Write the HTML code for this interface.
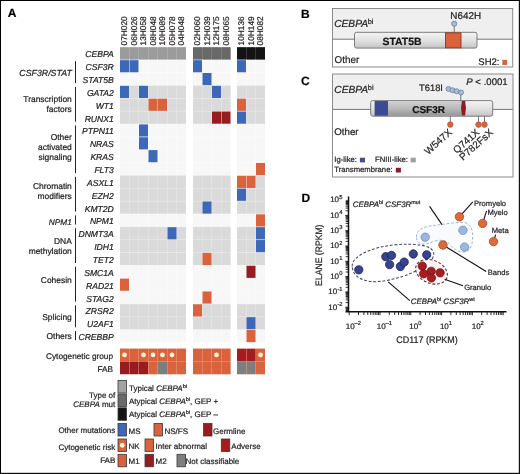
<!DOCTYPE html>
<html><head><meta charset="utf-8"><title>Figure</title>
<style>html,body{margin:0;padding:0;background:#fff;}body{width:520px;height:474px;overflow:hidden;font-family:"Liberation Sans",sans-serif;}svg{display:block;will-change:transform;}</style>
</head><body>
<svg width="520" height="474" viewBox="0 0 520 474" text-rendering="geometricPrecision"><style>text{stroke:#231f20;stroke-width:0.22px;}</style><defs>
<linearGradient id="bar" x1="0" y1="0" x2="0" y2="1"><stop offset="0" stop-color="#f4f4f4"/><stop offset="0.5" stop-color="#e2e2e2"/><stop offset="1" stop-color="#c4c4c4"/></linearGradient>
<linearGradient id="bar2" x1="0" y1="0" x2="0" y2="1"><stop offset="0" stop-color="#d0d0d0"/><stop offset="0.5" stop-color="#bababa"/><stop offset="1" stop-color="#969696"/></linearGradient>
</defs>
<text x="7.8" y="17.2" font-family="Liberation Sans, sans-serif" font-size="12" font-weight="bold" fill="#000">A</text>
<text transform="translate(127.40,45.4) rotate(-90)" font-family="Liberation Sans, sans-serif" font-size="8.3" fill="#231f20">07H020</text>
<text transform="translate(136.90,45.4) rotate(-90)" font-family="Liberation Sans, sans-serif" font-size="8.3" fill="#231f20">06H026</text>
<text transform="translate(146.40,45.4) rotate(-90)" font-family="Liberation Sans, sans-serif" font-size="8.3" fill="#231f20">13H058</text>
<text transform="translate(155.90,45.4) rotate(-90)" font-family="Liberation Sans, sans-serif" font-size="8.3" fill="#231f20">08H048</text>
<text transform="translate(165.40,45.4) rotate(-90)" font-family="Liberation Sans, sans-serif" font-size="8.3" fill="#231f20">10H089</text>
<text transform="translate(174.90,45.4) rotate(-90)" font-family="Liberation Sans, sans-serif" font-size="8.3" fill="#231f20">05H078</text>
<text transform="translate(184.40,45.4) rotate(-90)" font-family="Liberation Sans, sans-serif" font-size="8.3" fill="#231f20">04H048</text>
<text transform="translate(200.40,45.4) rotate(-90)" font-family="Liberation Sans, sans-serif" font-size="8.3" fill="#231f20">02H060</text>
<text transform="translate(209.90,45.4) rotate(-90)" font-family="Liberation Sans, sans-serif" font-size="8.3" fill="#231f20">12H039</text>
<text transform="translate(219.40,45.4) rotate(-90)" font-family="Liberation Sans, sans-serif" font-size="8.3" fill="#231f20">12H175</text>
<text transform="translate(228.90,45.4) rotate(-90)" font-family="Liberation Sans, sans-serif" font-size="8.3" fill="#231f20">08H065</text>
<text transform="translate(244.40,45.4) rotate(-90)" font-family="Liberation Sans, sans-serif" font-size="8.3" fill="#231f20">10H136</text>
<text transform="translate(253.90,45.4) rotate(-90)" font-family="Liberation Sans, sans-serif" font-size="8.3" fill="#231f20">10H149</text>
<text transform="translate(263.40,45.4) rotate(-90)" font-family="Liberation Sans, sans-serif" font-size="8.3" fill="#231f20">08H082</text>
<rect x="120.00" y="47.30" width="66.00" height="12.85" fill="#b9b9b9"/>
<rect x="193.00" y="47.30" width="37.50" height="12.85" fill="#959595"/>
<rect x="237.00" y="47.30" width="28.00" height="12.85" fill="#5a5a5a"/>
<rect x="120.00" y="59.45" width="66.00" height="13.55" fill="#fbfbfb"/>
<rect x="193.00" y="59.45" width="37.50" height="13.55" fill="#fbfbfb"/>
<rect x="237.00" y="59.45" width="28.00" height="13.55" fill="#fbfbfb"/>
<rect x="120.00" y="72.30" width="66.00" height="13.55" fill="#fbfbfb"/>
<rect x="193.00" y="72.30" width="37.50" height="13.55" fill="#fbfbfb"/>
<rect x="237.00" y="72.30" width="28.00" height="13.55" fill="#fbfbfb"/>
<rect x="120.00" y="85.15" width="66.00" height="13.55" fill="#ebebeb"/>
<rect x="193.00" y="85.15" width="37.50" height="13.55" fill="#ebebeb"/>
<rect x="237.00" y="85.15" width="28.00" height="13.55" fill="#ebebeb"/>
<rect x="120.00" y="98.00" width="66.00" height="13.55" fill="#ebebeb"/>
<rect x="193.00" y="98.00" width="37.50" height="13.55" fill="#ebebeb"/>
<rect x="237.00" y="98.00" width="28.00" height="13.55" fill="#ebebeb"/>
<rect x="120.00" y="110.85" width="66.00" height="13.55" fill="#ebebeb"/>
<rect x="193.00" y="110.85" width="37.50" height="13.55" fill="#ebebeb"/>
<rect x="237.00" y="110.85" width="28.00" height="13.55" fill="#ebebeb"/>
<rect x="120.00" y="123.70" width="66.00" height="13.55" fill="#fbfbfb"/>
<rect x="193.00" y="123.70" width="37.50" height="13.55" fill="#fbfbfb"/>
<rect x="237.00" y="123.70" width="28.00" height="13.55" fill="#fbfbfb"/>
<rect x="120.00" y="136.55" width="66.00" height="13.55" fill="#fbfbfb"/>
<rect x="193.00" y="136.55" width="37.50" height="13.55" fill="#fbfbfb"/>
<rect x="237.00" y="136.55" width="28.00" height="13.55" fill="#fbfbfb"/>
<rect x="120.00" y="149.40" width="66.00" height="13.55" fill="#fbfbfb"/>
<rect x="193.00" y="149.40" width="37.50" height="13.55" fill="#fbfbfb"/>
<rect x="237.00" y="149.40" width="28.00" height="13.55" fill="#fbfbfb"/>
<rect x="120.00" y="162.25" width="66.00" height="13.55" fill="#fbfbfb"/>
<rect x="193.00" y="162.25" width="37.50" height="13.55" fill="#fbfbfb"/>
<rect x="237.00" y="162.25" width="28.00" height="13.55" fill="#fbfbfb"/>
<rect x="120.00" y="175.10" width="66.00" height="13.55" fill="#ebebeb"/>
<rect x="193.00" y="175.10" width="37.50" height="13.55" fill="#ebebeb"/>
<rect x="237.00" y="175.10" width="28.00" height="13.55" fill="#ebebeb"/>
<rect x="120.00" y="187.95" width="66.00" height="13.55" fill="#ebebeb"/>
<rect x="193.00" y="187.95" width="37.50" height="13.55" fill="#ebebeb"/>
<rect x="237.00" y="187.95" width="28.00" height="13.55" fill="#ebebeb"/>
<rect x="120.00" y="200.80" width="66.00" height="13.55" fill="#ebebeb"/>
<rect x="193.00" y="200.80" width="37.50" height="13.55" fill="#ebebeb"/>
<rect x="237.00" y="200.80" width="28.00" height="13.55" fill="#ebebeb"/>
<rect x="120.00" y="213.65" width="66.00" height="13.55" fill="#fbfbfb"/>
<rect x="193.00" y="213.65" width="37.50" height="13.55" fill="#fbfbfb"/>
<rect x="237.00" y="213.65" width="28.00" height="13.55" fill="#fbfbfb"/>
<rect x="120.00" y="226.50" width="66.00" height="13.55" fill="#ebebeb"/>
<rect x="193.00" y="226.50" width="37.50" height="13.55" fill="#ebebeb"/>
<rect x="237.00" y="226.50" width="28.00" height="13.55" fill="#ebebeb"/>
<rect x="120.00" y="239.35" width="66.00" height="13.55" fill="#ebebeb"/>
<rect x="193.00" y="239.35" width="37.50" height="13.55" fill="#ebebeb"/>
<rect x="237.00" y="239.35" width="28.00" height="13.55" fill="#ebebeb"/>
<rect x="120.00" y="252.20" width="66.00" height="13.55" fill="#ebebeb"/>
<rect x="193.00" y="252.20" width="37.50" height="13.55" fill="#ebebeb"/>
<rect x="237.00" y="252.20" width="28.00" height="13.55" fill="#ebebeb"/>
<rect x="120.00" y="265.05" width="66.00" height="13.55" fill="#fbfbfb"/>
<rect x="193.00" y="265.05" width="37.50" height="13.55" fill="#fbfbfb"/>
<rect x="237.00" y="265.05" width="28.00" height="13.55" fill="#fbfbfb"/>
<rect x="120.00" y="277.90" width="66.00" height="13.55" fill="#fbfbfb"/>
<rect x="193.00" y="277.90" width="37.50" height="13.55" fill="#fbfbfb"/>
<rect x="237.00" y="277.90" width="28.00" height="13.55" fill="#fbfbfb"/>
<rect x="120.00" y="290.75" width="66.00" height="13.55" fill="#fbfbfb"/>
<rect x="193.00" y="290.75" width="37.50" height="13.55" fill="#fbfbfb"/>
<rect x="237.00" y="290.75" width="28.00" height="13.55" fill="#fbfbfb"/>
<rect x="120.00" y="303.60" width="66.00" height="13.55" fill="#ebebeb"/>
<rect x="193.00" y="303.60" width="37.50" height="13.55" fill="#ebebeb"/>
<rect x="237.00" y="303.60" width="28.00" height="13.55" fill="#ebebeb"/>
<rect x="120.00" y="316.45" width="66.00" height="13.55" fill="#ebebeb"/>
<rect x="193.00" y="316.45" width="37.50" height="13.55" fill="#ebebeb"/>
<rect x="237.00" y="316.45" width="28.00" height="13.55" fill="#ebebeb"/>
<rect x="120.00" y="329.30" width="66.00" height="12.85" fill="#fbfbfb"/>
<rect x="193.00" y="329.30" width="37.50" height="12.85" fill="#fbfbfb"/>
<rect x="237.00" y="329.30" width="28.00" height="12.85" fill="#fbfbfb"/>
<rect x="120.00" y="47.30" width="9.0" height="12.15" fill="#9b9b9b"/>
<rect x="129.50" y="47.30" width="9.0" height="12.15" fill="#9b9b9b"/>
<rect x="139.00" y="47.30" width="9.0" height="12.15" fill="#9b9b9b"/>
<rect x="148.50" y="47.30" width="9.0" height="12.15" fill="#9b9b9b"/>
<rect x="158.00" y="47.30" width="9.0" height="12.15" fill="#9b9b9b"/>
<rect x="167.50" y="47.30" width="9.0" height="12.15" fill="#9b9b9b"/>
<rect x="177.00" y="47.30" width="9.0" height="12.15" fill="#9b9b9b"/>
<rect x="193.00" y="47.30" width="9.0" height="12.15" fill="#686868"/>
<rect x="202.50" y="47.30" width="9.0" height="12.15" fill="#686868"/>
<rect x="212.00" y="47.30" width="9.0" height="12.15" fill="#686868"/>
<rect x="221.50" y="47.30" width="9.0" height="12.15" fill="#686868"/>
<rect x="237.00" y="47.30" width="9.0" height="12.15" fill="#141414"/>
<rect x="246.50" y="47.30" width="9.0" height="12.15" fill="#141414"/>
<rect x="256.00" y="47.30" width="9.0" height="12.15" fill="#141414"/>
<text x="113.8" y="57.38" font-family="Liberation Sans, sans-serif" font-size="8.6" font-style="italic" text-anchor="end" fill="#231f20">CEBPA</text>
<rect x="120.00" y="60.15" width="9.0" height="12.15" fill="#3d68b8"/>
<rect x="129.50" y="60.15" width="9.0" height="12.15" fill="#3d68b8"/>
<rect x="139.00" y="60.15" width="9.0" height="12.15" fill="#f7f7f7"/>
<rect x="148.50" y="60.15" width="9.0" height="12.15" fill="#f7f7f7"/>
<rect x="158.00" y="60.15" width="9.0" height="12.15" fill="#f7f7f7"/>
<rect x="167.50" y="60.15" width="9.0" height="12.15" fill="#f7f7f7"/>
<rect x="177.00" y="60.15" width="9.0" height="12.15" fill="#f7f7f7"/>
<rect x="193.00" y="60.15" width="9.0" height="12.15" fill="#3d68b8"/>
<rect x="202.50" y="60.15" width="9.0" height="12.15" fill="#f7f7f7"/>
<rect x="212.00" y="60.15" width="9.0" height="12.15" fill="#f7f7f7"/>
<rect x="221.50" y="60.15" width="9.0" height="12.15" fill="#f7f7f7"/>
<rect x="237.00" y="60.15" width="9.0" height="12.15" fill="#3d68b8"/>
<rect x="246.50" y="60.15" width="9.0" height="12.15" fill="#f7f7f7"/>
<rect x="256.00" y="60.15" width="9.0" height="12.15" fill="#f7f7f7"/>
<text x="113.8" y="70.22" font-family="Liberation Sans, sans-serif" font-size="8.6" font-style="italic" text-anchor="end" fill="#231f20">CSF3R</text>
<rect x="120.00" y="73.00" width="9.0" height="12.15" fill="#f7f7f7"/>
<rect x="129.50" y="73.00" width="9.0" height="12.15" fill="#f7f7f7"/>
<rect x="139.00" y="73.00" width="9.0" height="12.15" fill="#f7f7f7"/>
<rect x="148.50" y="73.00" width="9.0" height="12.15" fill="#f7f7f7"/>
<rect x="158.00" y="73.00" width="9.0" height="12.15" fill="#f7f7f7"/>
<rect x="167.50" y="73.00" width="9.0" height="12.15" fill="#f7f7f7"/>
<rect x="177.00" y="73.00" width="9.0" height="12.15" fill="#f7f7f7"/>
<rect x="193.00" y="73.00" width="9.0" height="12.15" fill="#f7f7f7"/>
<rect x="202.50" y="73.00" width="9.0" height="12.15" fill="#3d68b8"/>
<rect x="212.00" y="73.00" width="9.0" height="12.15" fill="#f7f7f7"/>
<rect x="221.50" y="73.00" width="9.0" height="12.15" fill="#f7f7f7"/>
<rect x="237.00" y="73.00" width="9.0" height="12.15" fill="#f7f7f7"/>
<rect x="246.50" y="73.00" width="9.0" height="12.15" fill="#f7f7f7"/>
<rect x="256.00" y="73.00" width="9.0" height="12.15" fill="#f7f7f7"/>
<text x="113.8" y="83.08" font-family="Liberation Sans, sans-serif" font-size="8.6" font-style="italic" text-anchor="end" fill="#231f20">STAT5B</text>
<rect x="120.00" y="85.85" width="9.0" height="12.15" fill="#3d68b8"/>
<rect x="129.50" y="85.85" width="9.0" height="12.15" fill="#dadada"/>
<rect x="139.00" y="85.85" width="9.0" height="12.15" fill="#3d68b8"/>
<rect x="148.50" y="85.85" width="9.0" height="12.15" fill="#dadada"/>
<rect x="158.00" y="85.85" width="9.0" height="12.15" fill="#dadada"/>
<rect x="167.50" y="85.85" width="9.0" height="12.15" fill="#dadada"/>
<rect x="177.00" y="85.85" width="9.0" height="12.15" fill="#dadada"/>
<rect x="193.00" y="85.85" width="9.0" height="12.15" fill="#dadada"/>
<rect x="202.50" y="85.85" width="9.0" height="12.15" fill="#dadada"/>
<rect x="212.00" y="85.85" width="9.0" height="12.15" fill="#3d68b8"/>
<rect x="221.50" y="85.85" width="9.0" height="12.15" fill="#dadada"/>
<rect x="237.00" y="85.85" width="9.0" height="12.15" fill="#dadada"/>
<rect x="246.50" y="85.85" width="9.0" height="12.15" fill="#dadada"/>
<rect x="256.00" y="85.85" width="9.0" height="12.15" fill="#dadada"/>
<text x="113.8" y="95.92" font-family="Liberation Sans, sans-serif" font-size="8.6" font-style="italic" text-anchor="end" fill="#231f20">GATA2</text>
<rect x="120.00" y="98.70" width="9.0" height="12.15" fill="#dadada"/>
<rect x="129.50" y="98.70" width="9.0" height="12.15" fill="#dadada"/>
<rect x="139.00" y="98.70" width="9.0" height="12.15" fill="#dadada"/>
<rect x="148.50" y="98.70" width="9.0" height="12.15" fill="#da623c"/>
<rect x="158.00" y="98.70" width="9.0" height="12.15" fill="#da623c"/>
<rect x="167.50" y="98.70" width="9.0" height="12.15" fill="#dadada"/>
<rect x="177.00" y="98.70" width="9.0" height="12.15" fill="#dadada"/>
<rect x="193.00" y="98.70" width="9.0" height="12.15" fill="#dadada"/>
<rect x="202.50" y="98.70" width="9.0" height="12.15" fill="#dadada"/>
<rect x="212.00" y="98.70" width="9.0" height="12.15" fill="#dadada"/>
<rect x="221.50" y="98.70" width="9.0" height="12.15" fill="#dadada"/>
<rect x="237.00" y="98.70" width="9.0" height="12.15" fill="#da623c"/>
<rect x="246.50" y="98.70" width="9.0" height="12.15" fill="#dadada"/>
<rect x="256.00" y="98.70" width="9.0" height="12.15" fill="#dadada"/>
<text x="113.8" y="108.77" font-family="Liberation Sans, sans-serif" font-size="8.6" font-style="italic" text-anchor="end" fill="#231f20">WT1</text>
<rect x="120.00" y="111.55" width="9.0" height="12.15" fill="#dadada"/>
<rect x="129.50" y="111.55" width="9.0" height="12.15" fill="#dadada"/>
<rect x="139.00" y="111.55" width="9.0" height="12.15" fill="#dadada"/>
<rect x="148.50" y="111.55" width="9.0" height="12.15" fill="#dadada"/>
<rect x="158.00" y="111.55" width="9.0" height="12.15" fill="#dadada"/>
<rect x="167.50" y="111.55" width="9.0" height="12.15" fill="#dadada"/>
<rect x="177.00" y="111.55" width="9.0" height="12.15" fill="#dadada"/>
<rect x="193.00" y="111.55" width="9.0" height="12.15" fill="#dadada"/>
<rect x="202.50" y="111.55" width="9.0" height="12.15" fill="#dadada"/>
<rect x="212.00" y="111.55" width="9.0" height="12.15" fill="#961c20"/>
<rect x="221.50" y="111.55" width="9.0" height="12.15" fill="#961c20"/>
<rect x="237.00" y="111.55" width="9.0" height="12.15" fill="#3d68b8"/>
<rect x="246.50" y="111.55" width="9.0" height="12.15" fill="#dadada"/>
<rect x="256.00" y="111.55" width="9.0" height="12.15" fill="#dadada"/>
<text x="113.8" y="121.62" font-family="Liberation Sans, sans-serif" font-size="8.6" font-style="italic" text-anchor="end" fill="#231f20">RUNX1</text>
<rect x="120.00" y="124.40" width="9.0" height="12.15" fill="#f7f7f7"/>
<rect x="129.50" y="124.40" width="9.0" height="12.15" fill="#f7f7f7"/>
<rect x="139.00" y="124.40" width="9.0" height="12.15" fill="#3d68b8"/>
<rect x="148.50" y="124.40" width="9.0" height="12.15" fill="#f7f7f7"/>
<rect x="158.00" y="124.40" width="9.0" height="12.15" fill="#f7f7f7"/>
<rect x="167.50" y="124.40" width="9.0" height="12.15" fill="#f7f7f7"/>
<rect x="177.00" y="124.40" width="9.0" height="12.15" fill="#f7f7f7"/>
<rect x="193.00" y="124.40" width="9.0" height="12.15" fill="#f7f7f7"/>
<rect x="202.50" y="124.40" width="9.0" height="12.15" fill="#f7f7f7"/>
<rect x="212.00" y="124.40" width="9.0" height="12.15" fill="#f7f7f7"/>
<rect x="221.50" y="124.40" width="9.0" height="12.15" fill="#f7f7f7"/>
<rect x="237.00" y="124.40" width="9.0" height="12.15" fill="#f7f7f7"/>
<rect x="246.50" y="124.40" width="9.0" height="12.15" fill="#f7f7f7"/>
<rect x="256.00" y="124.40" width="9.0" height="12.15" fill="#f7f7f7"/>
<text x="113.8" y="134.47" font-family="Liberation Sans, sans-serif" font-size="8.6" font-style="italic" text-anchor="end" fill="#231f20">PTPN11</text>
<rect x="120.00" y="137.25" width="9.0" height="12.15" fill="#f7f7f7"/>
<rect x="129.50" y="137.25" width="9.0" height="12.15" fill="#f7f7f7"/>
<rect x="139.00" y="137.25" width="9.0" height="12.15" fill="#3d68b8"/>
<rect x="148.50" y="137.25" width="9.0" height="12.15" fill="#f7f7f7"/>
<rect x="158.00" y="137.25" width="9.0" height="12.15" fill="#f7f7f7"/>
<rect x="167.50" y="137.25" width="9.0" height="12.15" fill="#f7f7f7"/>
<rect x="177.00" y="137.25" width="9.0" height="12.15" fill="#f7f7f7"/>
<rect x="193.00" y="137.25" width="9.0" height="12.15" fill="#f7f7f7"/>
<rect x="202.50" y="137.25" width="9.0" height="12.15" fill="#f7f7f7"/>
<rect x="212.00" y="137.25" width="9.0" height="12.15" fill="#f7f7f7"/>
<rect x="221.50" y="137.25" width="9.0" height="12.15" fill="#f7f7f7"/>
<rect x="237.00" y="137.25" width="9.0" height="12.15" fill="#f7f7f7"/>
<rect x="246.50" y="137.25" width="9.0" height="12.15" fill="#f7f7f7"/>
<rect x="256.00" y="137.25" width="9.0" height="12.15" fill="#f7f7f7"/>
<text x="113.8" y="147.32" font-family="Liberation Sans, sans-serif" font-size="8.6" font-style="italic" text-anchor="end" fill="#231f20">NRAS</text>
<rect x="120.00" y="150.10" width="9.0" height="12.15" fill="#f7f7f7"/>
<rect x="129.50" y="150.10" width="9.0" height="12.15" fill="#f7f7f7"/>
<rect x="139.00" y="150.10" width="9.0" height="12.15" fill="#f7f7f7"/>
<rect x="148.50" y="150.10" width="9.0" height="12.15" fill="#3d68b8"/>
<rect x="158.00" y="150.10" width="9.0" height="12.15" fill="#f7f7f7"/>
<rect x="167.50" y="150.10" width="9.0" height="12.15" fill="#f7f7f7"/>
<rect x="177.00" y="150.10" width="9.0" height="12.15" fill="#f7f7f7"/>
<rect x="193.00" y="150.10" width="9.0" height="12.15" fill="#f7f7f7"/>
<rect x="202.50" y="150.10" width="9.0" height="12.15" fill="#f7f7f7"/>
<rect x="212.00" y="150.10" width="9.0" height="12.15" fill="#f7f7f7"/>
<rect x="221.50" y="150.10" width="9.0" height="12.15" fill="#f7f7f7"/>
<rect x="237.00" y="150.10" width="9.0" height="12.15" fill="#f7f7f7"/>
<rect x="246.50" y="150.10" width="9.0" height="12.15" fill="#f7f7f7"/>
<rect x="256.00" y="150.10" width="9.0" height="12.15" fill="#f7f7f7"/>
<text x="113.8" y="160.17" font-family="Liberation Sans, sans-serif" font-size="8.6" font-style="italic" text-anchor="end" fill="#231f20">KRAS</text>
<rect x="120.00" y="162.95" width="9.0" height="12.15" fill="#f7f7f7"/>
<rect x="129.50" y="162.95" width="9.0" height="12.15" fill="#f7f7f7"/>
<rect x="139.00" y="162.95" width="9.0" height="12.15" fill="#f7f7f7"/>
<rect x="148.50" y="162.95" width="9.0" height="12.15" fill="#f7f7f7"/>
<rect x="158.00" y="162.95" width="9.0" height="12.15" fill="#f7f7f7"/>
<rect x="167.50" y="162.95" width="9.0" height="12.15" fill="#f7f7f7"/>
<rect x="177.00" y="162.95" width="9.0" height="12.15" fill="#f7f7f7"/>
<rect x="193.00" y="162.95" width="9.0" height="12.15" fill="#f7f7f7"/>
<rect x="202.50" y="162.95" width="9.0" height="12.15" fill="#f7f7f7"/>
<rect x="212.00" y="162.95" width="9.0" height="12.15" fill="#f7f7f7"/>
<rect x="221.50" y="162.95" width="9.0" height="12.15" fill="#f7f7f7"/>
<rect x="237.00" y="162.95" width="9.0" height="12.15" fill="#f7f7f7"/>
<rect x="246.50" y="162.95" width="9.0" height="12.15" fill="#f7f7f7"/>
<rect x="256.00" y="162.95" width="9.0" height="12.15" fill="#da623c"/>
<text x="113.8" y="173.02" font-family="Liberation Sans, sans-serif" font-size="8.6" font-style="italic" text-anchor="end" fill="#231f20">FLT3</text>
<rect x="120.00" y="175.80" width="9.0" height="12.15" fill="#dadada"/>
<rect x="129.50" y="175.80" width="9.0" height="12.15" fill="#dadada"/>
<rect x="139.00" y="175.80" width="9.0" height="12.15" fill="#dadada"/>
<rect x="148.50" y="175.80" width="9.0" height="12.15" fill="#dadada"/>
<rect x="158.00" y="175.80" width="9.0" height="12.15" fill="#dadada"/>
<rect x="167.50" y="175.80" width="9.0" height="12.15" fill="#dadada"/>
<rect x="177.00" y="175.80" width="9.0" height="12.15" fill="#dadada"/>
<rect x="193.00" y="175.80" width="9.0" height="12.15" fill="#dadada"/>
<rect x="202.50" y="175.80" width="9.0" height="12.15" fill="#dadada"/>
<rect x="212.00" y="175.80" width="9.0" height="12.15" fill="#dadada"/>
<rect x="221.50" y="175.80" width="9.0" height="12.15" fill="#dadada"/>
<rect x="237.00" y="175.80" width="9.0" height="12.15" fill="#da623c"/>
<rect x="246.50" y="175.80" width="9.0" height="12.15" fill="#da623c"/>
<rect x="256.00" y="175.80" width="9.0" height="12.15" fill="#dadada"/>
<text x="113.8" y="185.88" font-family="Liberation Sans, sans-serif" font-size="8.6" font-style="italic" text-anchor="end" fill="#231f20">ASXL1</text>
<rect x="120.00" y="188.65" width="9.0" height="12.15" fill="#dadada"/>
<rect x="129.50" y="188.65" width="9.0" height="12.15" fill="#dadada"/>
<rect x="139.00" y="188.65" width="9.0" height="12.15" fill="#dadada"/>
<rect x="148.50" y="188.65" width="9.0" height="12.15" fill="#dadada"/>
<rect x="158.00" y="188.65" width="9.0" height="12.15" fill="#dadada"/>
<rect x="167.50" y="188.65" width="9.0" height="12.15" fill="#dadada"/>
<rect x="177.00" y="188.65" width="9.0" height="12.15" fill="#dadada"/>
<rect x="193.00" y="188.65" width="9.0" height="12.15" fill="#dadada"/>
<rect x="202.50" y="188.65" width="9.0" height="12.15" fill="#dadada"/>
<rect x="212.00" y="188.65" width="9.0" height="12.15" fill="#dadada"/>
<rect x="221.50" y="188.65" width="9.0" height="12.15" fill="#dadada"/>
<rect x="237.00" y="188.65" width="9.0" height="12.15" fill="#3d68b8"/>
<rect x="246.50" y="188.65" width="9.0" height="12.15" fill="#dadada"/>
<rect x="256.00" y="188.65" width="9.0" height="12.15" fill="#dadada"/>
<text x="113.8" y="198.72" font-family="Liberation Sans, sans-serif" font-size="8.6" font-style="italic" text-anchor="end" fill="#231f20">EZH2</text>
<rect x="120.00" y="201.50" width="9.0" height="12.15" fill="#dadada"/>
<rect x="129.50" y="201.50" width="9.0" height="12.15" fill="#dadada"/>
<rect x="139.00" y="201.50" width="9.0" height="12.15" fill="#dadada"/>
<rect x="148.50" y="201.50" width="9.0" height="12.15" fill="#dadada"/>
<rect x="158.00" y="201.50" width="9.0" height="12.15" fill="#dadada"/>
<rect x="167.50" y="201.50" width="9.0" height="12.15" fill="#dadada"/>
<rect x="177.00" y="201.50" width="9.0" height="12.15" fill="#dadada"/>
<rect x="193.00" y="201.50" width="9.0" height="12.15" fill="#dadada"/>
<rect x="202.50" y="201.50" width="9.0" height="12.15" fill="#3d68b8"/>
<rect x="212.00" y="201.50" width="9.0" height="12.15" fill="#dadada"/>
<rect x="221.50" y="201.50" width="9.0" height="12.15" fill="#dadada"/>
<rect x="237.00" y="201.50" width="9.0" height="12.15" fill="#dadada"/>
<rect x="246.50" y="201.50" width="9.0" height="12.15" fill="#dadada"/>
<rect x="256.00" y="201.50" width="9.0" height="12.15" fill="#dadada"/>
<text x="113.8" y="211.57" font-family="Liberation Sans, sans-serif" font-size="8.6" font-style="italic" text-anchor="end" fill="#231f20">KMT2D</text>
<rect x="120.00" y="214.35" width="9.0" height="12.15" fill="#f7f7f7"/>
<rect x="129.50" y="214.35" width="9.0" height="12.15" fill="#f7f7f7"/>
<rect x="139.00" y="214.35" width="9.0" height="12.15" fill="#f7f7f7"/>
<rect x="148.50" y="214.35" width="9.0" height="12.15" fill="#f7f7f7"/>
<rect x="158.00" y="214.35" width="9.0" height="12.15" fill="#f7f7f7"/>
<rect x="167.50" y="214.35" width="9.0" height="12.15" fill="#f7f7f7"/>
<rect x="177.00" y="214.35" width="9.0" height="12.15" fill="#f7f7f7"/>
<rect x="193.00" y="214.35" width="9.0" height="12.15" fill="#f7f7f7"/>
<rect x="202.50" y="214.35" width="9.0" height="12.15" fill="#f7f7f7"/>
<rect x="212.00" y="214.35" width="9.0" height="12.15" fill="#f7f7f7"/>
<rect x="221.50" y="214.35" width="9.0" height="12.15" fill="#f7f7f7"/>
<rect x="237.00" y="214.35" width="9.0" height="12.15" fill="#f7f7f7"/>
<rect x="246.50" y="214.35" width="9.0" height="12.15" fill="#f7f7f7"/>
<rect x="256.00" y="214.35" width="9.0" height="12.15" fill="#da623c"/>
<text x="113.8" y="224.42" font-family="Liberation Sans, sans-serif" font-size="8.6" font-style="italic" text-anchor="end" fill="#231f20">NPM1</text>
<rect x="120.00" y="227.20" width="9.0" height="12.15" fill="#dadada"/>
<rect x="129.50" y="227.20" width="9.0" height="12.15" fill="#dadada"/>
<rect x="139.00" y="227.20" width="9.0" height="12.15" fill="#dadada"/>
<rect x="148.50" y="227.20" width="9.0" height="12.15" fill="#dadada"/>
<rect x="158.00" y="227.20" width="9.0" height="12.15" fill="#dadada"/>
<rect x="167.50" y="227.20" width="9.0" height="12.15" fill="#3d68b8"/>
<rect x="177.00" y="227.20" width="9.0" height="12.15" fill="#dadada"/>
<rect x="193.00" y="227.20" width="9.0" height="12.15" fill="#dadada"/>
<rect x="202.50" y="227.20" width="9.0" height="12.15" fill="#dadada"/>
<rect x="212.00" y="227.20" width="9.0" height="12.15" fill="#dadada"/>
<rect x="221.50" y="227.20" width="9.0" height="12.15" fill="#dadada"/>
<rect x="237.00" y="227.20" width="9.0" height="12.15" fill="#dadada"/>
<rect x="246.50" y="227.20" width="9.0" height="12.15" fill="#dadada"/>
<rect x="256.00" y="227.20" width="9.0" height="12.15" fill="#3d68b8"/>
<text x="113.8" y="237.27" font-family="Liberation Sans, sans-serif" font-size="8.6" font-style="italic" text-anchor="end" fill="#231f20">DNMT3A</text>
<rect x="120.00" y="240.05" width="9.0" height="12.15" fill="#dadada"/>
<rect x="129.50" y="240.05" width="9.0" height="12.15" fill="#dadada"/>
<rect x="139.00" y="240.05" width="9.0" height="12.15" fill="#dadada"/>
<rect x="148.50" y="240.05" width="9.0" height="12.15" fill="#dadada"/>
<rect x="158.00" y="240.05" width="9.0" height="12.15" fill="#dadada"/>
<rect x="167.50" y="240.05" width="9.0" height="12.15" fill="#dadada"/>
<rect x="177.00" y="240.05" width="9.0" height="12.15" fill="#dadada"/>
<rect x="193.00" y="240.05" width="9.0" height="12.15" fill="#dadada"/>
<rect x="202.50" y="240.05" width="9.0" height="12.15" fill="#dadada"/>
<rect x="212.00" y="240.05" width="9.0" height="12.15" fill="#dadada"/>
<rect x="221.50" y="240.05" width="9.0" height="12.15" fill="#dadada"/>
<rect x="237.00" y="240.05" width="9.0" height="12.15" fill="#dadada"/>
<rect x="246.50" y="240.05" width="9.0" height="12.15" fill="#dadada"/>
<rect x="256.00" y="240.05" width="9.0" height="12.15" fill="#3d68b8"/>
<text x="113.8" y="250.12" font-family="Liberation Sans, sans-serif" font-size="8.6" font-style="italic" text-anchor="end" fill="#231f20">IDH1</text>
<rect x="120.00" y="252.90" width="9.0" height="12.15" fill="#dadada"/>
<rect x="129.50" y="252.90" width="9.0" height="12.15" fill="#dadada"/>
<rect x="139.00" y="252.90" width="9.0" height="12.15" fill="#dadada"/>
<rect x="148.50" y="252.90" width="9.0" height="12.15" fill="#dadada"/>
<rect x="158.00" y="252.90" width="9.0" height="12.15" fill="#dadada"/>
<rect x="167.50" y="252.90" width="9.0" height="12.15" fill="#dadada"/>
<rect x="177.00" y="252.90" width="9.0" height="12.15" fill="#dadada"/>
<rect x="193.00" y="252.90" width="9.0" height="12.15" fill="#dadada"/>
<rect x="202.50" y="252.90" width="9.0" height="12.15" fill="#da623c"/>
<rect x="212.00" y="252.90" width="9.0" height="12.15" fill="#dadada"/>
<rect x="221.50" y="252.90" width="9.0" height="12.15" fill="#dadada"/>
<rect x="237.00" y="252.90" width="9.0" height="12.15" fill="#dadada"/>
<rect x="246.50" y="252.90" width="9.0" height="12.15" fill="#dadada"/>
<rect x="256.00" y="252.90" width="9.0" height="12.15" fill="#dadada"/>
<text x="113.8" y="262.97" font-family="Liberation Sans, sans-serif" font-size="8.6" font-style="italic" text-anchor="end" fill="#231f20">TET2</text>
<rect x="120.00" y="265.75" width="9.0" height="12.15" fill="#f7f7f7"/>
<rect x="129.50" y="265.75" width="9.0" height="12.15" fill="#f7f7f7"/>
<rect x="139.00" y="265.75" width="9.0" height="12.15" fill="#f7f7f7"/>
<rect x="148.50" y="265.75" width="9.0" height="12.15" fill="#f7f7f7"/>
<rect x="158.00" y="265.75" width="9.0" height="12.15" fill="#f7f7f7"/>
<rect x="167.50" y="265.75" width="9.0" height="12.15" fill="#f7f7f7"/>
<rect x="177.00" y="265.75" width="9.0" height="12.15" fill="#f7f7f7"/>
<rect x="193.00" y="265.75" width="9.0" height="12.15" fill="#f7f7f7"/>
<rect x="202.50" y="265.75" width="9.0" height="12.15" fill="#f7f7f7"/>
<rect x="212.00" y="265.75" width="9.0" height="12.15" fill="#f7f7f7"/>
<rect x="221.50" y="265.75" width="9.0" height="12.15" fill="#f7f7f7"/>
<rect x="237.00" y="265.75" width="9.0" height="12.15" fill="#f7f7f7"/>
<rect x="246.50" y="265.75" width="9.0" height="12.15" fill="#961c20"/>
<rect x="256.00" y="265.75" width="9.0" height="12.15" fill="#f7f7f7"/>
<text x="113.8" y="275.82" font-family="Liberation Sans, sans-serif" font-size="8.6" font-style="italic" text-anchor="end" fill="#231f20">SMC1A</text>
<rect x="120.00" y="278.60" width="9.0" height="12.15" fill="#da623c"/>
<rect x="129.50" y="278.60" width="9.0" height="12.15" fill="#f7f7f7"/>
<rect x="139.00" y="278.60" width="9.0" height="12.15" fill="#f7f7f7"/>
<rect x="148.50" y="278.60" width="9.0" height="12.15" fill="#f7f7f7"/>
<rect x="158.00" y="278.60" width="9.0" height="12.15" fill="#f7f7f7"/>
<rect x="167.50" y="278.60" width="9.0" height="12.15" fill="#f7f7f7"/>
<rect x="177.00" y="278.60" width="9.0" height="12.15" fill="#f7f7f7"/>
<rect x="193.00" y="278.60" width="9.0" height="12.15" fill="#f7f7f7"/>
<rect x="202.50" y="278.60" width="9.0" height="12.15" fill="#f7f7f7"/>
<rect x="212.00" y="278.60" width="9.0" height="12.15" fill="#f7f7f7"/>
<rect x="221.50" y="278.60" width="9.0" height="12.15" fill="#f7f7f7"/>
<rect x="237.00" y="278.60" width="9.0" height="12.15" fill="#f7f7f7"/>
<rect x="246.50" y="278.60" width="9.0" height="12.15" fill="#f7f7f7"/>
<rect x="256.00" y="278.60" width="9.0" height="12.15" fill="#f7f7f7"/>
<text x="113.8" y="288.67" font-family="Liberation Sans, sans-serif" font-size="8.6" font-style="italic" text-anchor="end" fill="#231f20">RAD21</text>
<rect x="120.00" y="291.45" width="9.0" height="12.15" fill="#f7f7f7"/>
<rect x="129.50" y="291.45" width="9.0" height="12.15" fill="#f7f7f7"/>
<rect x="139.00" y="291.45" width="9.0" height="12.15" fill="#f7f7f7"/>
<rect x="148.50" y="291.45" width="9.0" height="12.15" fill="#f7f7f7"/>
<rect x="158.00" y="291.45" width="9.0" height="12.15" fill="#f7f7f7"/>
<rect x="167.50" y="291.45" width="9.0" height="12.15" fill="#f7f7f7"/>
<rect x="177.00" y="291.45" width="9.0" height="12.15" fill="#f7f7f7"/>
<rect x="193.00" y="291.45" width="9.0" height="12.15" fill="#f7f7f7"/>
<rect x="202.50" y="291.45" width="9.0" height="12.15" fill="#da623c"/>
<rect x="212.00" y="291.45" width="9.0" height="12.15" fill="#f7f7f7"/>
<rect x="221.50" y="291.45" width="9.0" height="12.15" fill="#f7f7f7"/>
<rect x="237.00" y="291.45" width="9.0" height="12.15" fill="#f7f7f7"/>
<rect x="246.50" y="291.45" width="9.0" height="12.15" fill="#f7f7f7"/>
<rect x="256.00" y="291.45" width="9.0" height="12.15" fill="#f7f7f7"/>
<text x="113.8" y="301.52" font-family="Liberation Sans, sans-serif" font-size="8.6" font-style="italic" text-anchor="end" fill="#231f20">STAG2</text>
<rect x="120.00" y="304.30" width="9.0" height="12.15" fill="#dadada"/>
<rect x="129.50" y="304.30" width="9.0" height="12.15" fill="#dadada"/>
<rect x="139.00" y="304.30" width="9.0" height="12.15" fill="#dadada"/>
<rect x="148.50" y="304.30" width="9.0" height="12.15" fill="#dadada"/>
<rect x="158.00" y="304.30" width="9.0" height="12.15" fill="#dadada"/>
<rect x="167.50" y="304.30" width="9.0" height="12.15" fill="#dadada"/>
<rect x="177.00" y="304.30" width="9.0" height="12.15" fill="#dadada"/>
<rect x="193.00" y="304.30" width="9.0" height="12.15" fill="#da623c"/>
<rect x="202.50" y="304.30" width="9.0" height="12.15" fill="#dadada"/>
<rect x="212.00" y="304.30" width="9.0" height="12.15" fill="#dadada"/>
<rect x="221.50" y="304.30" width="9.0" height="12.15" fill="#dadada"/>
<rect x="237.00" y="304.30" width="9.0" height="12.15" fill="#dadada"/>
<rect x="246.50" y="304.30" width="9.0" height="12.15" fill="#dadada"/>
<rect x="256.00" y="304.30" width="9.0" height="12.15" fill="#dadada"/>
<text x="113.8" y="314.38" font-family="Liberation Sans, sans-serif" font-size="8.6" font-style="italic" text-anchor="end" fill="#231f20">ZRSR2</text>
<rect x="120.00" y="317.15" width="9.0" height="12.15" fill="#dadada"/>
<rect x="129.50" y="317.15" width="9.0" height="12.15" fill="#dadada"/>
<rect x="139.00" y="317.15" width="9.0" height="12.15" fill="#dadada"/>
<rect x="148.50" y="317.15" width="9.0" height="12.15" fill="#dadada"/>
<rect x="158.00" y="317.15" width="9.0" height="12.15" fill="#dadada"/>
<rect x="167.50" y="317.15" width="9.0" height="12.15" fill="#dadada"/>
<rect x="177.00" y="317.15" width="9.0" height="12.15" fill="#dadada"/>
<rect x="193.00" y="317.15" width="9.0" height="12.15" fill="#dadada"/>
<rect x="202.50" y="317.15" width="9.0" height="12.15" fill="#dadada"/>
<rect x="212.00" y="317.15" width="9.0" height="12.15" fill="#dadada"/>
<rect x="221.50" y="317.15" width="9.0" height="12.15" fill="#dadada"/>
<rect x="237.00" y="317.15" width="9.0" height="12.15" fill="#dadada"/>
<rect x="246.50" y="317.15" width="9.0" height="12.15" fill="#3d68b8"/>
<rect x="256.00" y="317.15" width="9.0" height="12.15" fill="#dadada"/>
<text x="113.8" y="327.22" font-family="Liberation Sans, sans-serif" font-size="8.6" font-style="italic" text-anchor="end" fill="#231f20">U2AF1</text>
<rect x="120.00" y="330.00" width="9.0" height="12.15" fill="#f7f7f7"/>
<rect x="129.50" y="330.00" width="9.0" height="12.15" fill="#f7f7f7"/>
<rect x="139.00" y="330.00" width="9.0" height="12.15" fill="#f7f7f7"/>
<rect x="148.50" y="330.00" width="9.0" height="12.15" fill="#f7f7f7"/>
<rect x="158.00" y="330.00" width="9.0" height="12.15" fill="#f7f7f7"/>
<rect x="167.50" y="330.00" width="9.0" height="12.15" fill="#f7f7f7"/>
<rect x="177.00" y="330.00" width="9.0" height="12.15" fill="#f7f7f7"/>
<rect x="193.00" y="330.00" width="9.0" height="12.15" fill="#f7f7f7"/>
<rect x="202.50" y="330.00" width="9.0" height="12.15" fill="#f7f7f7"/>
<rect x="212.00" y="330.00" width="9.0" height="12.15" fill="#f7f7f7"/>
<rect x="221.50" y="330.00" width="9.0" height="12.15" fill="#f7f7f7"/>
<rect x="237.00" y="330.00" width="9.0" height="12.15" fill="#f7f7f7"/>
<rect x="246.50" y="330.00" width="9.0" height="12.15" fill="#da623c"/>
<rect x="256.00" y="330.00" width="9.0" height="12.15" fill="#f7f7f7"/>
<text x="113.8" y="340.07" font-family="Liberation Sans, sans-serif" font-size="8.6" font-style="italic" text-anchor="end" fill="#231f20">CREBBP</text>
<rect x="75.0" y="61.15" width="1" height="22.00" fill="#222"/>
<text x="71.8" y="76.30" font-family="Liberation Sans, sans-serif" font-size="8.8" font-style="italic" text-anchor="end" fill="#231f20">CSF3R/STAT</text>
<rect x="75.0" y="86.85" width="1" height="34.85" fill="#222"/>
<text x="71.8" y="102.00" font-family="Liberation Sans, sans-serif" font-size="8.45" text-anchor="end" fill="#231f20">Transcription</text>
<text x="71.8" y="111.70" font-family="Liberation Sans, sans-serif" font-size="8.45" text-anchor="end" fill="#231f20">factors</text>
<rect x="75.0" y="125.40" width="1" height="47.70" fill="#222"/>
<text x="71.8" y="140.30" font-family="Liberation Sans, sans-serif" font-size="8.45" text-anchor="end" fill="#231f20">Other</text>
<text x="71.8" y="150.10" font-family="Liberation Sans, sans-serif" font-size="8.45" text-anchor="end" fill="#231f20">activated</text>
<text x="71.8" y="159.90" font-family="Liberation Sans, sans-serif" font-size="8.45" text-anchor="end" fill="#231f20">signaling</text>
<rect x="75.0" y="176.80" width="1" height="34.85" fill="#222"/>
<text x="71.8" y="189.20" font-family="Liberation Sans, sans-serif" font-size="8.45" text-anchor="end" fill="#231f20">Chromatin</text>
<text x="71.8" y="199.10" font-family="Liberation Sans, sans-serif" font-size="8.45" text-anchor="end" fill="#231f20">modifiers</text>
<rect x="75.0" y="215.35" width="1" height="9.15" fill="#222"/>
<text x="71.8" y="225.20" font-family="Liberation Sans, sans-serif" font-size="8.3" font-style="italic" text-anchor="end" fill="#231f20">NPM1</text>
<rect x="75.0" y="228.20" width="1" height="34.85" fill="#222"/>
<text x="71.8" y="244.40" font-family="Liberation Sans, sans-serif" font-size="8.45" text-anchor="end" fill="#231f20">DNA</text>
<text x="71.8" y="254.00" font-family="Liberation Sans, sans-serif" font-size="8.45" text-anchor="end" fill="#231f20">methylation</text>
<rect x="75.0" y="266.75" width="1" height="34.85" fill="#222"/>
<text x="71.8" y="282.80" font-family="Liberation Sans, sans-serif" font-size="8.45" text-anchor="end" fill="#231f20">Cohesin</text>
<rect x="75.0" y="305.30" width="1" height="22.00" fill="#222"/>
<text x="71.8" y="320.20" font-family="Liberation Sans, sans-serif" font-size="8.45" text-anchor="end" fill="#231f20">Splicing</text>
<rect x="75.0" y="331.00" width="1" height="9.15" fill="#222"/>
<text x="71.8" y="338.90" font-family="Liberation Sans, sans-serif" font-size="8.45" text-anchor="end" fill="#231f20">Others</text>
<rect x="120.00" y="348.7" width="66.00" height="25.50" fill="#e9a288"/>
<rect x="193.00" y="348.7" width="37.50" height="25.50" fill="#e9a288"/>
<rect x="237.00" y="348.7" width="28.00" height="25.50" fill="#e9a288"/>
<rect x="120.00" y="348.7" width="9.0" height="12.5" fill="#da623c"/>
<circle cx="124.50" cy="354.95" r="2.4" fill="#fff3d6"/>
<rect x="120.00" y="361.7" width="9.0" height="12.5" fill="#961c20"/>
<rect x="129.50" y="348.7" width="9.0" height="12.5" fill="#da623c"/>
<rect x="129.50" y="361.7" width="9.0" height="12.5" fill="#961c20"/>
<rect x="139.00" y="348.7" width="9.0" height="12.5" fill="#da623c"/>
<circle cx="143.50" cy="354.95" r="2.4" fill="#fff3d6"/>
<rect x="139.00" y="361.7" width="9.0" height="12.5" fill="#961c20"/>
<rect x="148.50" y="348.7" width="9.0" height="12.5" fill="#da623c"/>
<circle cx="153.00" cy="354.95" r="2.4" fill="#fff3d6"/>
<rect x="148.50" y="361.7" width="9.0" height="12.5" fill="#da623c"/>
<rect x="158.00" y="348.7" width="9.0" height="12.5" fill="#da623c"/>
<circle cx="162.50" cy="354.95" r="2.4" fill="#fff3d6"/>
<rect x="158.00" y="361.7" width="9.0" height="12.5" fill="#7c7f80"/>
<rect x="167.50" y="348.7" width="9.0" height="12.5" fill="#da623c"/>
<circle cx="172.00" cy="354.95" r="2.4" fill="#fff3d6"/>
<rect x="167.50" y="361.7" width="9.0" height="12.5" fill="#da623c"/>
<rect x="177.00" y="348.7" width="9.0" height="12.5" fill="#da623c"/>
<rect x="177.00" y="361.7" width="9.0" height="12.5" fill="#da623c"/>
<rect x="193.00" y="348.7" width="9.0" height="12.5" fill="#da623c"/>
<rect x="193.00" y="361.7" width="9.0" height="12.5" fill="#da623c"/>
<rect x="202.50" y="348.7" width="9.0" height="12.5" fill="#da623c"/>
<rect x="202.50" y="361.7" width="9.0" height="12.5" fill="#da623c"/>
<rect x="212.00" y="348.7" width="9.0" height="12.5" fill="#da623c"/>
<circle cx="216.50" cy="354.95" r="2.4" fill="#fff3d6"/>
<rect x="212.00" y="361.7" width="9.0" height="12.5" fill="#da623c"/>
<rect x="221.50" y="348.7" width="9.0" height="12.5" fill="#da623c"/>
<rect x="221.50" y="361.7" width="9.0" height="12.5" fill="#da623c"/>
<rect x="237.00" y="348.7" width="9.0" height="12.5" fill="#a51c20"/>
<rect x="237.00" y="361.7" width="9.0" height="12.5" fill="#7c7f80"/>
<rect x="246.50" y="348.7" width="9.0" height="12.5" fill="#a51c20"/>
<rect x="246.50" y="361.7" width="9.0" height="12.5" fill="#7c7f80"/>
<rect x="256.00" y="348.7" width="9.0" height="12.5" fill="#da623c"/>
<circle cx="260.50" cy="354.95" r="2.4" fill="#fff3d6"/>
<rect x="256.00" y="361.7" width="9.0" height="12.5" fill="#da623c"/>
<text x="113" y="359" font-family="Liberation Sans, sans-serif" font-size="8.25" text-anchor="end" fill="#231f20">Cytogenetic group</text>
<text x="113" y="371.8" font-family="Liberation Sans, sans-serif" font-size="8.25" text-anchor="end" fill="#231f20">FAB</text>
<rect x="118" y="380.5" width="8.5" height="12.5" fill="#a3a3a3" stroke="#3a3a3a" stroke-width="0.8"/>
<rect x="118" y="394" width="8.5" height="12.5" fill="#6a6a6a" stroke="#3a3a3a" stroke-width="0.8"/>
<rect x="118" y="407.8" width="8.5" height="12.5" fill="#141414" stroke="#3a3a3a" stroke-width="0.8"/>
<text x="129" y="390.7" font-family="Liberation Sans, sans-serif" font-size="8" text-anchor="start" fill="#231f20">Typical <tspan font-style="italic">CEBPA</tspan><tspan font-size="5.5" dy="-3">bi</tspan></text>
<text x="129" y="403.7" font-family="Liberation Sans, sans-serif" font-size="8" text-anchor="start" fill="#231f20">Atypical <tspan font-style="italic">CEBPA</tspan><tspan font-size="5.5" dy="-3">bi</tspan><tspan dy="3">, GEP +</tspan></text>
<text x="129" y="416.8" font-family="Liberation Sans, sans-serif" font-size="8" text-anchor="start" fill="#231f20">Atypical <tspan font-style="italic">CEBPA</tspan><tspan font-size="5.5" dy="-3">bi</tspan><tspan dy="3">, GEP –</tspan></text>
<text x="115.3" y="398.4" font-family="Liberation Sans, sans-serif" font-size="8" text-anchor="end" fill="#231f20">Type of</text>
<text x="115.3" y="407.4" font-family="Liberation Sans, sans-serif" font-size="8" text-anchor="end" fill="#231f20"><tspan font-style="italic">CEBPA</tspan> mut</text>
<rect x="118" y="423.5" width="8.5" height="12.5" fill="#3d68b8" stroke="#3a3a3a" stroke-width="0.8"/>
<text x="128.5" y="433.5" font-family="Liberation Sans, sans-serif" font-size="8" text-anchor="start" fill="#231f20">MS</text>
<rect x="154" y="423.5" width="8.5" height="12.5" fill="#da623c" stroke="#3a3a3a" stroke-width="0.8"/>
<text x="164.5" y="433.5" font-family="Liberation Sans, sans-serif" font-size="8" text-anchor="start" fill="#231f20">NS/FS</text>
<rect x="203.5" y="423.5" width="8.5" height="12.5" fill="#961c20" stroke="#3a3a3a" stroke-width="0.8"/>
<text x="213" y="433.5" font-family="Liberation Sans, sans-serif" font-size="8" text-anchor="start" fill="#231f20">Germline</text>
<text x="115.3" y="433" font-family="Liberation Sans, sans-serif" font-size="8" text-anchor="end" fill="#231f20">Other mutations</text>
<rect x="118" y="439" width="8.5" height="12.5" fill="#da623c" stroke="#3a3a3a" stroke-width="0.8"/>
<circle cx="122.25" cy="445.25" r="2.4" fill="#fff3d6"/>
<text x="128.5" y="449.2" font-family="Liberation Sans, sans-serif" font-size="8" text-anchor="start" fill="#231f20">NK</text>
<rect x="145" y="439" width="8.5" height="12.5" fill="#da623c" stroke="#3a3a3a" stroke-width="0.8"/>
<text x="155.5" y="449.2" font-family="Liberation Sans, sans-serif" font-size="8" text-anchor="start" fill="#231f20">Inter abnormal</text>
<rect x="221.3" y="439" width="8.5" height="12.5" fill="#a51c20" stroke="#3a3a3a" stroke-width="0.8"/>
<text x="231.3" y="449.2" font-family="Liberation Sans, sans-serif" font-size="8" text-anchor="start" fill="#231f20">Adverse</text>
<text x="115.3" y="449.7" font-family="Liberation Sans, sans-serif" font-size="8" text-anchor="end" fill="#231f20">Cytogenetic risk</text>
<rect x="118" y="454.3" width="8.5" height="12.5" fill="#da623c" stroke="#3a3a3a" stroke-width="0.8"/>
<text x="128.5" y="463.8" font-family="Liberation Sans, sans-serif" font-size="8" text-anchor="start" fill="#231f20">M1</text>
<rect x="145" y="454.3" width="8.5" height="12.5" fill="#961c20" stroke="#3a3a3a" stroke-width="0.8"/>
<text x="155.5" y="463.8" font-family="Liberation Sans, sans-serif" font-size="8" text-anchor="start" fill="#231f20">M2</text>
<rect x="177" y="454.3" width="8.5" height="12.5" fill="#7c7f80" stroke="#3a3a3a" stroke-width="0.8"/>
<text x="185.5" y="463.8" font-family="Liberation Sans, sans-serif" font-size="8" text-anchor="start" fill="#231f20">Not classifiable</text>
<text x="115.3" y="462.8" font-family="Liberation Sans, sans-serif" font-size="8" text-anchor="end" fill="#231f20">FAB</text>
<text x="301" y="18" font-family="Liberation Sans, sans-serif" font-size="12" font-weight="bold" fill="#000">B</text>
<rect x="332.5" y="8.5" width="180.5" height="30.7" fill="#efefef"/>
<line x1="332.5" y1="39.2" x2="513" y2="39.2" stroke="#555" stroke-width="0.8"/>
<rect x="332.5" y="8.5" width="180.2" height="58.5" fill="none" stroke="#8a8a8a" stroke-width="1"/>
<text x="334.2" y="27.4" font-family="Liberation Sans, sans-serif" font-size="10.2" font-style="italic" fill="#231f20">CEBPA<tspan font-size="7.4" dx="-0.3" dy="-3.6" font-style="normal">bi</tspan></text>
<text x="334.6" y="62.6" font-family="Liberation Sans, sans-serif" font-size="9.9" fill="#231f20">Other</text>
<rect x="354.5" y="32.3" width="122.5" height="15.8" rx="2" fill="url(#bar)" stroke="#707070" stroke-width="0.9"/>
<rect x="445.5" y="32.8" width="15.5" height="15" fill="#da623c" stroke="#8a3a20" stroke-width="0.9"/>
<text x="382.5" y="45" font-family="Liberation Sans, sans-serif" font-size="10.45" font-weight="bold" fill="#111">STAT5B</text>
<line x1="454.2" y1="26" x2="454.2" y2="32.5" stroke="#555" stroke-width="0.8"/>
<circle cx="454.2" cy="23.7" r="2.6" fill="#a6bbd9" stroke="#61759a" stroke-width="0.7"/>
<text x="450.3" y="19" font-family="Liberation Sans, sans-serif" font-size="9.9" fill="#231f20">N642H</text>
<text x="478.3" y="65.4" font-family="Liberation Sans, sans-serif" font-size="9.5" fill="#231f20">SH2:</text>
<rect x="502.8" y="60.1" width="4.1" height="4.7" fill="#da623c" stroke="#a04a2a" stroke-width="0.4"/>
<text x="301" y="85.3" font-family="Liberation Sans, sans-serif" font-size="12" font-weight="bold" fill="#000">C</text>
<rect x="332.5" y="74" width="180.5" height="35.4" fill="#efefef"/>
<line x1="332.5" y1="109.4" x2="513" y2="109.4" stroke="#555" stroke-width="0.8"/>
<rect x="332.5" y="74" width="180.5" height="103" fill="none" stroke="#8a8a8a" stroke-width="1"/>
<text x="334.3" y="93.4" font-family="Liberation Sans, sans-serif" font-size="10.2" font-style="italic" fill="#231f20">CEBPA<tspan font-size="7.4" dx="-0.3" dy="-3.6" font-style="normal">bi</tspan></text>
<text x="334.3" y="134.7" font-family="Liberation Sans, sans-serif" font-size="9.7" fill="#231f20">Other</text>
<rect x="370.7" y="100.6" width="122" height="15.6" rx="2" fill="url(#bar)" stroke="#707070" stroke-width="0.9"/>
<rect x="388" y="101.05" width="73.5" height="14.7" fill="url(#bar2)"/>
<rect x="374.6" y="101.05" width="13.4" height="14.7" fill="#3b4a92"/>
<path d="M461.6,100.9 L465.3,100.9 L465.3,103 L466,108 L465.3,113.5 L465.3,115.5 L461.6,115.5 L461.6,113.5 L461,108 L461.6,103 Z" fill="#8e1a24"/>
<text x="412.2" y="112.6" font-family="Liberation Sans, sans-serif" font-size="10" font-weight="bold" fill="#111">CSF3R</text>
<text x="466.3" y="85.3" font-family="Liberation Sans, sans-serif" font-size="9.6" fill="#231f20"><tspan font-style="italic">P</tspan> &lt; .0001</text>
<text x="419" y="90.6" font-family="Liberation Sans, sans-serif" font-size="9.4" fill="#231f20">T618I</text>
<line x1="460.8" y1="93" x2="460.8" y2="100.8" stroke="#555" stroke-width="0.8"/>
<circle cx="448.5" cy="88.9" r="2.5" fill="#a6bbd9" stroke="#61759a" stroke-width="0.7"/>
<circle cx="452.4" cy="90.2" r="2.5" fill="#a6bbd9" stroke="#61759a" stroke-width="0.7"/>
<circle cx="456.6" cy="91.2" r="2.5" fill="#a6bbd9" stroke="#61759a" stroke-width="0.7"/>
<circle cx="461.0" cy="92.4" r="2.5" fill="#a6bbd9" stroke="#61759a" stroke-width="0.7"/>
<line x1="450.3" y1="116.2" x2="450.3" y2="122" stroke="#555" stroke-width="0.8"/>
<circle cx="450.3" cy="124.6" r="2.8" fill="#da623c" stroke="#a04020" stroke-width="0.5"/>
<line x1="478.5" y1="116.2" x2="478.5" y2="122" stroke="#555" stroke-width="0.8"/>
<circle cx="478.5" cy="124.6" r="2.8" fill="#da623c" stroke="#a04020" stroke-width="0.5"/>
<line x1="484.5" y1="116.2" x2="484.5" y2="122" stroke="#555" stroke-width="0.8"/>
<circle cx="484.5" cy="124.6" r="2.8" fill="#da623c" stroke="#a04020" stroke-width="0.5"/>
<text transform="translate(452.6,133.2) rotate(-42)" font-family="Liberation Sans, sans-serif" font-size="10" text-anchor="end" fill="#231f20">W547X</text>
<text transform="translate(480,133.2) rotate(-42)" font-family="Liberation Sans, sans-serif" font-size="10" text-anchor="end" fill="#231f20">Q741X</text>
<text transform="translate(493.6,133.4) rotate(-42)" font-family="Liberation Sans, sans-serif" font-size="10" text-anchor="end" fill="#231f20">P782FsX</text>
<text x="334.3" y="162.4" font-family="Liberation Sans, sans-serif" font-size="7.7" fill="#231f20">Ig-like:</text>
<rect x="359.9" y="157.7" width="5.1" height="4.7" fill="#474f88"/>
<text x="375" y="162.4" font-family="Liberation Sans, sans-serif" font-size="7.7" fill="#231f20">FNIII-like:</text>
<rect x="410.6" y="157.7" width="5.2" height="4.7" fill="#a0a0a0"/>
<text x="334.3" y="172.3" font-family="Liberation Sans, sans-serif" font-size="7.7" fill="#231f20">Transmembrane:</text>
<rect x="395.8" y="167.8" width="5.1" height="4.7" fill="#8e1a24"/>
<text x="301.5" y="202.1" font-family="Liberation Sans, sans-serif" font-size="12" font-weight="bold" fill="#000">D</text>
<line x1="348.5" y1="196.5" x2="348.5" y2="311.8" stroke="#111" stroke-width="1.5"/>
<line x1="345.5" y1="311.8" x2="506.5" y2="311.8" stroke="#111" stroke-width="1.4"/>
<line x1="345.70" y1="310.59" x2="348.5" y2="310.59" stroke="#111" stroke-width="0.9"/>
<line x1="345.70" y1="309.57" x2="348.5" y2="309.57" stroke="#111" stroke-width="0.9"/>
<line x1="345.70" y1="308.68" x2="348.5" y2="308.68" stroke="#111" stroke-width="0.9"/>
<line x1="345.70" y1="307.90" x2="348.5" y2="307.90" stroke="#111" stroke-width="0.9"/>
<line x1="345.30" y1="307.20" x2="348.5" y2="307.20" stroke="#111" stroke-width="0.9"/>
<line x1="345.70" y1="302.59" x2="348.5" y2="302.59" stroke="#111" stroke-width="0.9"/>
<line x1="345.70" y1="299.90" x2="348.5" y2="299.90" stroke="#111" stroke-width="0.9"/>
<line x1="345.70" y1="297.99" x2="348.5" y2="297.99" stroke="#111" stroke-width="0.9"/>
<line x1="345.70" y1="296.51" x2="348.5" y2="296.51" stroke="#111" stroke-width="0.9"/>
<line x1="345.70" y1="295.29" x2="348.5" y2="295.29" stroke="#111" stroke-width="0.9"/>
<line x1="345.70" y1="294.27" x2="348.5" y2="294.27" stroke="#111" stroke-width="0.9"/>
<line x1="345.70" y1="293.38" x2="348.5" y2="293.38" stroke="#111" stroke-width="0.9"/>
<line x1="345.70" y1="292.60" x2="348.5" y2="292.60" stroke="#111" stroke-width="0.9"/>
<line x1="345.30" y1="291.90" x2="348.5" y2="291.90" stroke="#111" stroke-width="0.9"/>
<line x1="345.70" y1="287.29" x2="348.5" y2="287.29" stroke="#111" stroke-width="0.9"/>
<line x1="345.70" y1="284.60" x2="348.5" y2="284.60" stroke="#111" stroke-width="0.9"/>
<line x1="345.70" y1="282.69" x2="348.5" y2="282.69" stroke="#111" stroke-width="0.9"/>
<line x1="345.70" y1="281.21" x2="348.5" y2="281.21" stroke="#111" stroke-width="0.9"/>
<line x1="345.70" y1="279.99" x2="348.5" y2="279.99" stroke="#111" stroke-width="0.9"/>
<line x1="345.70" y1="278.97" x2="348.5" y2="278.97" stroke="#111" stroke-width="0.9"/>
<line x1="345.70" y1="278.08" x2="348.5" y2="278.08" stroke="#111" stroke-width="0.9"/>
<line x1="345.70" y1="277.30" x2="348.5" y2="277.30" stroke="#111" stroke-width="0.9"/>
<line x1="345.30" y1="276.60" x2="348.5" y2="276.60" stroke="#111" stroke-width="0.9"/>
<line x1="345.70" y1="271.99" x2="348.5" y2="271.99" stroke="#111" stroke-width="0.9"/>
<line x1="345.70" y1="269.30" x2="348.5" y2="269.30" stroke="#111" stroke-width="0.9"/>
<line x1="345.70" y1="267.39" x2="348.5" y2="267.39" stroke="#111" stroke-width="0.9"/>
<line x1="345.70" y1="265.91" x2="348.5" y2="265.91" stroke="#111" stroke-width="0.9"/>
<line x1="345.70" y1="264.69" x2="348.5" y2="264.69" stroke="#111" stroke-width="0.9"/>
<line x1="345.70" y1="263.67" x2="348.5" y2="263.67" stroke="#111" stroke-width="0.9"/>
<line x1="345.70" y1="262.78" x2="348.5" y2="262.78" stroke="#111" stroke-width="0.9"/>
<line x1="345.70" y1="262.00" x2="348.5" y2="262.00" stroke="#111" stroke-width="0.9"/>
<line x1="345.30" y1="261.30" x2="348.5" y2="261.30" stroke="#111" stroke-width="0.9"/>
<line x1="345.70" y1="256.69" x2="348.5" y2="256.69" stroke="#111" stroke-width="0.9"/>
<line x1="345.70" y1="254.00" x2="348.5" y2="254.00" stroke="#111" stroke-width="0.9"/>
<line x1="345.70" y1="252.09" x2="348.5" y2="252.09" stroke="#111" stroke-width="0.9"/>
<line x1="345.70" y1="250.61" x2="348.5" y2="250.61" stroke="#111" stroke-width="0.9"/>
<line x1="345.70" y1="249.39" x2="348.5" y2="249.39" stroke="#111" stroke-width="0.9"/>
<line x1="345.70" y1="248.37" x2="348.5" y2="248.37" stroke="#111" stroke-width="0.9"/>
<line x1="345.70" y1="247.48" x2="348.5" y2="247.48" stroke="#111" stroke-width="0.9"/>
<line x1="345.70" y1="246.70" x2="348.5" y2="246.70" stroke="#111" stroke-width="0.9"/>
<line x1="345.30" y1="246.00" x2="348.5" y2="246.00" stroke="#111" stroke-width="0.9"/>
<line x1="345.70" y1="241.39" x2="348.5" y2="241.39" stroke="#111" stroke-width="0.9"/>
<line x1="345.70" y1="238.70" x2="348.5" y2="238.70" stroke="#111" stroke-width="0.9"/>
<line x1="345.70" y1="236.79" x2="348.5" y2="236.79" stroke="#111" stroke-width="0.9"/>
<line x1="345.70" y1="235.31" x2="348.5" y2="235.31" stroke="#111" stroke-width="0.9"/>
<line x1="345.70" y1="234.09" x2="348.5" y2="234.09" stroke="#111" stroke-width="0.9"/>
<line x1="345.70" y1="233.07" x2="348.5" y2="233.07" stroke="#111" stroke-width="0.9"/>
<line x1="345.70" y1="232.18" x2="348.5" y2="232.18" stroke="#111" stroke-width="0.9"/>
<line x1="345.70" y1="231.40" x2="348.5" y2="231.40" stroke="#111" stroke-width="0.9"/>
<line x1="345.30" y1="230.70" x2="348.5" y2="230.70" stroke="#111" stroke-width="0.9"/>
<line x1="345.70" y1="226.09" x2="348.5" y2="226.09" stroke="#111" stroke-width="0.9"/>
<line x1="345.70" y1="223.40" x2="348.5" y2="223.40" stroke="#111" stroke-width="0.9"/>
<line x1="345.70" y1="221.49" x2="348.5" y2="221.49" stroke="#111" stroke-width="0.9"/>
<line x1="345.70" y1="220.01" x2="348.5" y2="220.01" stroke="#111" stroke-width="0.9"/>
<line x1="345.70" y1="218.79" x2="348.5" y2="218.79" stroke="#111" stroke-width="0.9"/>
<line x1="345.70" y1="217.77" x2="348.5" y2="217.77" stroke="#111" stroke-width="0.9"/>
<line x1="345.70" y1="216.88" x2="348.5" y2="216.88" stroke="#111" stroke-width="0.9"/>
<line x1="345.70" y1="216.10" x2="348.5" y2="216.10" stroke="#111" stroke-width="0.9"/>
<line x1="345.30" y1="215.40" x2="348.5" y2="215.40" stroke="#111" stroke-width="0.9"/>
<line x1="345.70" y1="210.79" x2="348.5" y2="210.79" stroke="#111" stroke-width="0.9"/>
<line x1="345.70" y1="208.10" x2="348.5" y2="208.10" stroke="#111" stroke-width="0.9"/>
<line x1="345.70" y1="206.19" x2="348.5" y2="206.19" stroke="#111" stroke-width="0.9"/>
<line x1="345.70" y1="204.71" x2="348.5" y2="204.71" stroke="#111" stroke-width="0.9"/>
<line x1="345.70" y1="203.49" x2="348.5" y2="203.49" stroke="#111" stroke-width="0.9"/>
<line x1="345.70" y1="202.47" x2="348.5" y2="202.47" stroke="#111" stroke-width="0.9"/>
<line x1="345.70" y1="201.58" x2="348.5" y2="201.58" stroke="#111" stroke-width="0.9"/>
<line x1="345.70" y1="200.80" x2="348.5" y2="200.80" stroke="#111" stroke-width="0.9"/>
<line x1="349.20" y1="311.8" x2="349.20" y2="315.20" stroke="#111" stroke-width="0.9"/>
<line x1="358.47" y1="311.8" x2="358.47" y2="315.00" stroke="#111" stroke-width="0.9"/>
<line x1="363.90" y1="311.8" x2="363.90" y2="315.00" stroke="#111" stroke-width="0.9"/>
<line x1="367.74" y1="311.8" x2="367.74" y2="315.00" stroke="#111" stroke-width="0.9"/>
<line x1="370.73" y1="311.8" x2="370.73" y2="315.00" stroke="#111" stroke-width="0.9"/>
<line x1="373.17" y1="311.8" x2="373.17" y2="315.00" stroke="#111" stroke-width="0.9"/>
<line x1="375.23" y1="311.8" x2="375.23" y2="315.00" stroke="#111" stroke-width="0.9"/>
<line x1="377.02" y1="311.8" x2="377.02" y2="315.00" stroke="#111" stroke-width="0.9"/>
<line x1="378.59" y1="311.8" x2="378.59" y2="315.00" stroke="#111" stroke-width="0.9"/>
<line x1="380.00" y1="311.8" x2="380.00" y2="315.20" stroke="#111" stroke-width="0.9"/>
<line x1="389.27" y1="311.8" x2="389.27" y2="315.00" stroke="#111" stroke-width="0.9"/>
<line x1="394.70" y1="311.8" x2="394.70" y2="315.00" stroke="#111" stroke-width="0.9"/>
<line x1="398.54" y1="311.8" x2="398.54" y2="315.00" stroke="#111" stroke-width="0.9"/>
<line x1="401.53" y1="311.8" x2="401.53" y2="315.00" stroke="#111" stroke-width="0.9"/>
<line x1="403.97" y1="311.8" x2="403.97" y2="315.00" stroke="#111" stroke-width="0.9"/>
<line x1="406.03" y1="311.8" x2="406.03" y2="315.00" stroke="#111" stroke-width="0.9"/>
<line x1="407.82" y1="311.8" x2="407.82" y2="315.00" stroke="#111" stroke-width="0.9"/>
<line x1="409.39" y1="311.8" x2="409.39" y2="315.00" stroke="#111" stroke-width="0.9"/>
<line x1="410.80" y1="311.8" x2="410.80" y2="315.20" stroke="#111" stroke-width="0.9"/>
<line x1="420.07" y1="311.8" x2="420.07" y2="315.00" stroke="#111" stroke-width="0.9"/>
<line x1="425.50" y1="311.8" x2="425.50" y2="315.00" stroke="#111" stroke-width="0.9"/>
<line x1="429.34" y1="311.8" x2="429.34" y2="315.00" stroke="#111" stroke-width="0.9"/>
<line x1="432.33" y1="311.8" x2="432.33" y2="315.00" stroke="#111" stroke-width="0.9"/>
<line x1="434.77" y1="311.8" x2="434.77" y2="315.00" stroke="#111" stroke-width="0.9"/>
<line x1="436.83" y1="311.8" x2="436.83" y2="315.00" stroke="#111" stroke-width="0.9"/>
<line x1="438.62" y1="311.8" x2="438.62" y2="315.00" stroke="#111" stroke-width="0.9"/>
<line x1="440.19" y1="311.8" x2="440.19" y2="315.00" stroke="#111" stroke-width="0.9"/>
<line x1="441.60" y1="311.8" x2="441.60" y2="315.20" stroke="#111" stroke-width="0.9"/>
<line x1="450.87" y1="311.8" x2="450.87" y2="315.00" stroke="#111" stroke-width="0.9"/>
<line x1="456.30" y1="311.8" x2="456.30" y2="315.00" stroke="#111" stroke-width="0.9"/>
<line x1="460.14" y1="311.8" x2="460.14" y2="315.00" stroke="#111" stroke-width="0.9"/>
<line x1="463.13" y1="311.8" x2="463.13" y2="315.00" stroke="#111" stroke-width="0.9"/>
<line x1="465.57" y1="311.8" x2="465.57" y2="315.00" stroke="#111" stroke-width="0.9"/>
<line x1="467.63" y1="311.8" x2="467.63" y2="315.00" stroke="#111" stroke-width="0.9"/>
<line x1="469.42" y1="311.8" x2="469.42" y2="315.00" stroke="#111" stroke-width="0.9"/>
<line x1="470.99" y1="311.8" x2="470.99" y2="315.00" stroke="#111" stroke-width="0.9"/>
<line x1="472.40" y1="311.8" x2="472.40" y2="315.20" stroke="#111" stroke-width="0.9"/>
<line x1="481.67" y1="311.8" x2="481.67" y2="315.00" stroke="#111" stroke-width="0.9"/>
<line x1="487.10" y1="311.8" x2="487.10" y2="315.00" stroke="#111" stroke-width="0.9"/>
<line x1="490.94" y1="311.8" x2="490.94" y2="315.00" stroke="#111" stroke-width="0.9"/>
<line x1="493.93" y1="311.8" x2="493.93" y2="315.00" stroke="#111" stroke-width="0.9"/>
<line x1="496.37" y1="311.8" x2="496.37" y2="315.00" stroke="#111" stroke-width="0.9"/>
<line x1="498.43" y1="311.8" x2="498.43" y2="315.00" stroke="#111" stroke-width="0.9"/>
<line x1="500.22" y1="311.8" x2="500.22" y2="315.00" stroke="#111" stroke-width="0.9"/>
<line x1="501.79" y1="311.8" x2="501.79" y2="315.00" stroke="#111" stroke-width="0.9"/>
<line x1="503.20" y1="311.8" x2="503.20" y2="315.20" stroke="#111" stroke-width="0.9"/>
<text x="342.6" y="309.50" font-family="Liberation Sans, sans-serif" font-size="8" text-anchor="end" fill="#231f20">10<tspan font-size="5.8" dx="0.3" dy="-3.6">-2</tspan></text>
<text x="342.6" y="294.20" font-family="Liberation Sans, sans-serif" font-size="8" text-anchor="end" fill="#231f20">10<tspan font-size="5.8" dx="0.3" dy="-3.6">-1</tspan></text>
<text x="342.6" y="278.90" font-family="Liberation Sans, sans-serif" font-size="8" text-anchor="end" fill="#231f20">10<tspan font-size="5.8" dx="0.3" dy="-3.6">0</tspan></text>
<text x="342.6" y="263.60" font-family="Liberation Sans, sans-serif" font-size="8" text-anchor="end" fill="#231f20">10<tspan font-size="5.8" dx="0.3" dy="-3.6">1</tspan></text>
<text x="342.6" y="248.30" font-family="Liberation Sans, sans-serif" font-size="8" text-anchor="end" fill="#231f20">10<tspan font-size="5.8" dx="0.3" dy="-3.6">2</tspan></text>
<text x="342.6" y="233.00" font-family="Liberation Sans, sans-serif" font-size="8" text-anchor="end" fill="#231f20">10<tspan font-size="5.8" dx="0.3" dy="-3.6">3</tspan></text>
<text x="342.6" y="217.70" font-family="Liberation Sans, sans-serif" font-size="8" text-anchor="end" fill="#231f20">10<tspan font-size="5.8" dx="0.3" dy="-3.6">4</tspan></text>
<text x="342.6" y="202.40" font-family="Liberation Sans, sans-serif" font-size="8" text-anchor="end" fill="#231f20">10<tspan font-size="5.8" dx="0.3" dy="-3.6">5</tspan></text>
<text x="345.70" y="328.7" font-family="Liberation Sans, sans-serif" font-size="8" fill="#231f20">10<tspan font-size="5.8" dy="-3.6">–2</tspan></text>
<text x="376.70" y="328.7" font-family="Liberation Sans, sans-serif" font-size="8" fill="#231f20">10<tspan font-size="5.8" dy="-3.6">–1</tspan></text>
<text x="409.30" y="328.7" font-family="Liberation Sans, sans-serif" font-size="8" fill="#231f20">10<tspan font-size="5.8" dy="-3.6">0</tspan></text>
<text x="439.90" y="328.7" font-family="Liberation Sans, sans-serif" font-size="8" fill="#231f20">10<tspan font-size="5.8" dy="-3.6">1</tspan></text>
<text x="471.70" y="328.7" font-family="Liberation Sans, sans-serif" font-size="8" fill="#231f20">10<tspan font-size="5.8" dy="-3.6">2</tspan></text>
<text transform="translate(322.2,255.2) rotate(-90) scale(0.92,1)" font-family="Liberation Sans, sans-serif" font-size="9.4" text-anchor="middle" fill="#231f20">ELANE (RPKM)</text>
<text transform="translate(427,342.6) scale(0.935,1)" font-family="Liberation Sans, sans-serif" font-size="9.6" text-anchor="middle" fill="#231f20">CD117 (RPKM)</text>
<path d="M352.2,266.5 C351.5,256 372,247 395,244.8 C415,243 433.8,245 433.8,254 C433.8,264 410,276.5 385,280.8 C366,284 352.8,278 352.2,266.5 Z" fill="none" stroke="#3f4660" stroke-width="1.05" stroke-dasharray="2.8,1.8"/>
<path d="M416.5,237 C416,229 425,226.5 433,225.5 C443,224.5 455,222 464,222.5 C471,223.5 473,230 472.6,237 C472.5,245 471,251 464,252 C457,252.5 453,248 449,243.5 C446,240.5 441,239.5 436,240.8 C430,242.5 426,245 421,244 C418,243 416.5,240 416.5,237 Z" fill="#f8fafd" stroke="#9fb2cc" stroke-width="1" stroke-dasharray="2.6,1.9"/>
<ellipse cx="431.5" cy="271.8" rx="16.5" ry="11.5" transform="rotate(22 431.5 271.8)" fill="#fdf2f2" stroke="#55303a" stroke-width="1.05" stroke-dasharray="2.8,1.8"/>
<line x1="429.6" y1="206.4" x2="442" y2="224.6" stroke="#111" stroke-width="1.1"/>
<line x1="459.4" y1="216.8" x2="472.8" y2="201.8" stroke="#111" stroke-width="1.1"/>
<line x1="482.6" y1="223.4" x2="486.6" y2="210.8" stroke="#111" stroke-width="1.1"/>
<line x1="493.5" y1="241.6" x2="495.6" y2="234.6" stroke="#111" stroke-width="1.1"/>
<line x1="443" y1="245" x2="486.2" y2="271.5" stroke="#111" stroke-width="1.1"/>
<line x1="444.6" y1="279.2" x2="463" y2="285.8" stroke="#111" stroke-width="1.1"/>
<line x1="388.2" y1="281.9" x2="409.8" y2="300.6" stroke="#111" stroke-width="1.1"/>
<circle cx="358.8" cy="269.8" r="4.15" fill="#36438f" stroke="#1d2257" stroke-width="0.8"/>
<circle cx="385.8" cy="256.7" r="4.15" fill="#36438f" stroke="#1d2257" stroke-width="0.8"/>
<circle cx="391.5" cy="255.4" r="4.15" fill="#36438f" stroke="#1d2257" stroke-width="0.8"/>
<circle cx="389.6" cy="264.6" r="4.15" fill="#36438f" stroke="#1d2257" stroke-width="0.8"/>
<circle cx="400.4" cy="266.5" r="4.15" fill="#36438f" stroke="#1d2257" stroke-width="0.8"/>
<circle cx="404.2" cy="262.1" r="4.15" fill="#36438f" stroke="#1d2257" stroke-width="0.8"/>
<circle cx="413.3" cy="254" r="4.15" fill="#36438f" stroke="#1d2257" stroke-width="0.8"/>
<circle cx="426.7" cy="254.8" r="4.15" fill="#36438f" stroke="#1d2257" stroke-width="0.8"/>
<circle cx="422.3" cy="266.1" r="4.15" fill="#a81c22" stroke="#6e1016" stroke-width="0.8"/>
<circle cx="440.1" cy="272.8" r="4.15" fill="#a81c22" stroke="#6e1016" stroke-width="0.8"/>
<circle cx="431.2" cy="271.3" r="4.15" fill="#a81c22" stroke="#6e1016" stroke-width="0.8"/>
<circle cx="423.7" cy="273.8" r="4.15" fill="#a81c22" stroke="#6e1016" stroke-width="0.8"/>
<circle cx="431.4" cy="277.9" r="4.15" fill="#a81c22" stroke="#6e1016" stroke-width="0.8"/>
<circle cx="425.2" cy="237.2" r="4.2" fill="#9db6dc" stroke="#6f8fbf" stroke-width="0.8"/>
<circle cx="462.9" cy="230.3" r="4.2" fill="#9db6dc" stroke="#6f8fbf" stroke-width="0.8"/>
<circle cx="464.6" cy="247.1" r="4.2" fill="#9db6dc" stroke="#6f8fbf" stroke-width="0.8"/>
<circle cx="459.4" cy="216.8" r="4.2" fill="#dc6a3a" stroke="#a8441c" stroke-width="0.8"/>
<circle cx="482.6" cy="223.4" r="4.2" fill="#dc6a3a" stroke="#a8441c" stroke-width="0.8"/>
<circle cx="493.5" cy="241.6" r="4.2" fill="#dc6a3a" stroke="#a8441c" stroke-width="0.8"/>
<circle cx="443" cy="245" r="4.2" fill="#dc6a3a" stroke="#a8441c" stroke-width="0.8"/>
<text x="474" y="205.9" font-family="Liberation Sans, sans-serif" font-size="7.6" fill="#231f20">Promyelo</text>
<text x="487.5" y="215" font-family="Liberation Sans, sans-serif" font-size="7.6" fill="#231f20">Myelo</text>
<text x="491.8" y="233.3" font-family="Liberation Sans, sans-serif" font-size="7.6" fill="#231f20">Meta</text>
<text x="487.7" y="275" font-family="Liberation Sans, sans-serif" font-size="7.6" fill="#231f20">Bands</text>
<text x="464.2" y="290.3" font-family="Liberation Sans, sans-serif" font-size="7.6" fill="#231f20">Granulo</text>
<text x="352.8" y="207.3" font-family="Liberation Sans, sans-serif" font-size="7.9" font-style="italic" fill="#231f20">CEBPA<tspan font-size="5.4" dy="-3" font-style="normal">bi</tspan><tspan dy="3"> CSF3R</tspan><tspan font-size="5.4" dy="-3" font-style="normal">mut</tspan></text>
<text x="410.8" y="303.5" font-family="Liberation Sans, sans-serif" font-size="7.9" font-style="italic" fill="#231f20">CEBPA<tspan font-size="5.4" dy="-3" font-style="normal">bi</tspan><tspan dy="3"> CSF3R</tspan><tspan font-size="5.4" dy="-3" font-style="normal">wt</tspan></text>
<rect x="0" y="0" width="520" height="1" fill="#000"/><rect x="0" y="0" width="1" height="474" fill="#000"/><rect x="0" y="472.8" width="520" height="1.2" fill="#111"/><rect x="518.8" y="0" width="1.2" height="474" fill="#111"/>
</svg>
</body></html>
